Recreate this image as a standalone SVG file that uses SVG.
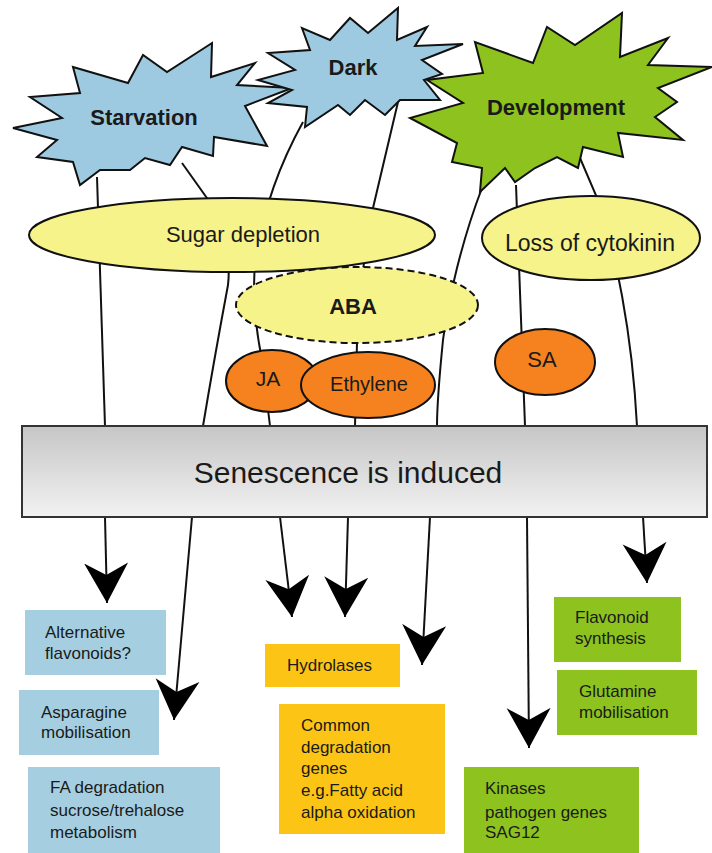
<svg xmlns="http://www.w3.org/2000/svg" width="712" height="853" viewBox="0 0 712 853">
<defs>
<style>
.star{stroke:#111;stroke-width:2;stroke-linejoin:miter}
.blue{fill:#9ecae1}
.green{fill:#8dc21f}
.ell{fill:#f7f38b;stroke:#111;stroke-width:2}
.dash{stroke-dasharray:7 4}
.org{fill:#f5821f;stroke:#111;stroke-width:2}
.conn{fill:none;stroke:#111;stroke-width:2}
.lbl{font-family:"Liberation Sans",Arial,Helvetica,sans-serif;fill:#1a1a1a}
.b{font-weight:bold;font-size:22px;text-anchor:middle}
.m{font-size:22px;text-anchor:middle}
.box{font-size:17px}
.bbox{fill:#a5cfe1}
.gbox{fill:#fcc516}
.kbox{fill:#8dc21f}
</style>
<linearGradient id="gray" x1="0" y1="0" x2="0" y2="1">
<stop offset="0" stop-color="#c6c6c6"/>
<stop offset="1" stop-color="#f2f2f2"/>
</linearGradient>
<marker id="ah" viewBox="-40 -24 42 48" refX="0" refY="0" markerWidth="42" markerHeight="48" orient="auto" markerUnits="userSpaceOnUse">
<path d="M0,0 L-40,-22 L-28,0 L-40,22 Z" fill="#000"/>
</marker>
</defs>
<rect width="712" height="853" fill="#fff"/>

<g id="connectors">
<path class="conn" d="M97,177 L105,426"/>
<path class="conn" d="M182,163 L214,208 Q232,250 228,285 Q214,360 203,426"/>
<path class="conn" d="M303,122 Q268,185 256,255 Q250,300 262,360 L270,426"/>
<path class="conn" d="M398,102 L373,208 L358,300 L355,426"/>
<path class="conn" d="M482,188 C462,240 448,300 443,340 C439,380 437,410 437,426"/>
<path class="conn" d="M516,185 L525,426"/>
<path class="conn" d="M580,158 L598,200 C615,250 632,330 637,426"/>
<path class="conn" d="M105,517 L107,603" marker-end="url(#ah)"/>
<path class="conn" d="M192,517 L174,720" marker-end="url(#ah)"/>
<path class="conn" d="M280,517 L292,617" marker-end="url(#ah)"/>
<path class="conn" d="M348,517 L345,617" marker-end="url(#ah)"/>
<path class="conn" d="M430,517 L422,665" marker-end="url(#ah)"/>
<path class="conn" d="M527,517 L529,748" marker-end="url(#ah)"/>
<path class="conn" d="M643,517 L647,583" marker-end="url(#ah)"/>
</g>

<g id="starvation">
<polygon class="star blue" points="13,128 62,118 30,97 80,93 73,67 128,83 143,55 167,72 212,43 211,77 255,63 237,85 292,88 245,106 267,146 214,137 213,156 182,147 170,165 145,158 130,170 100,170 80,185 73,162 37,157 57,140"/>
<text class="lbl b" x="144" y="125">Starvation</text>
</g>

<g id="dark">
<polygon class="star blue" points="398,8 397,40 427,27 415,46 463,44 422,60 442,74 424,80 440,100 400,100 385,115 365,100 350,115 338,105 305,127 307,107 268,103 292,90 258,80 295,70 268,53 310,50 302,28 330,40 350,18 368,33"/>
<text class="lbl b" x="353" y="75">Dark</text>
</g>

<g id="development">
<polygon class="star green" points="622,13 620,57 668,38 648,65 712,67 658,88 677,102 655,117 683,140 618,133 623,157 583,147 578,168 557,157 535,168 515,182 505,168 480,192 482,168 452,162 457,143 410,118 463,103 427,80 483,73 475,42 533,63 547,27 575,45"/>
<text class="lbl b" x="556" y="115">Development</text>
</g>

<g id="aba">
<ellipse class="ell dash" cx="357" cy="305" rx="121" ry="38"/>
<text class="lbl b" x="353" y="314">ABA</text>
</g>

<g id="sugar">
<ellipse class="ell" cx="232" cy="235" rx="203" ry="37"/>
<text class="lbl m" x="243" y="242">Sugar depletion</text>
</g>

<g id="cytokinin">
<ellipse class="ell" cx="591" cy="238" rx="109" ry="42"/>
<text class="lbl m" x="590" y="251" style="font-size:23px">Loss of cytokinin</text>
</g>

<g id="ja">
<ellipse class="org" cx="272" cy="381" rx="46" ry="31"/>
<text class="lbl m" x="268" y="386" style="font-size:21px">JA</text>
</g>

<g id="ethylene">
<ellipse class="org" cx="368" cy="385" rx="67" ry="33"/>
<text class="lbl m" x="369" y="391" style="font-size:20px">Ethylene</text>
</g>

<g id="sa">
<ellipse class="org" cx="545" cy="362" rx="50" ry="33"/>
<text class="lbl m" x="542" y="367">SA</text>
</g>

<g id="senescence">
<rect x="22" y="426" width="685" height="91" fill="url(#gray)" stroke="#333" stroke-width="2"/>
<text class="lbl" x="348" y="483" text-anchor="middle" style="font-size:30px">Senescence is induced</text>
</g>

<g id="alt-flavonoids">
<rect class="bbox" x="25" y="610" width="141" height="65"/>
<text class="lbl box" x="45" y="638">Alternative</text>
<text class="lbl box" x="45" y="659">flavonoids?</text>
</g>

<g id="asparagine">
<rect class="bbox" x="19" y="690" width="140" height="65"/>
<text class="lbl box" x="41" y="718">Asparagine</text>
<text class="lbl box" x="41" y="738">mobilisation</text>
</g>

<g id="fa-degradation">
<rect class="bbox" x="28" y="767" width="192" height="86"/>
<text class="lbl box" x="50" y="793">FA degradation</text>
<text class="lbl box" x="50" y="816">sucrose/trehalose</text>
<text class="lbl box" x="50" y="838">metabolism</text>
</g>

<g id="hydrolases">
<rect class="gbox" x="265" y="644" width="135" height="43"/>
<text class="lbl box" x="287" y="671">Hydrolases</text>
</g>

<g id="common">
<rect class="gbox" x="279" y="704" width="166" height="130"/>
<text class="lbl box" x="301" y="731">Common</text>
<text class="lbl box" x="301" y="753">degradation</text>
<text class="lbl box" x="301" y="774">genes</text>
<text class="lbl box" x="301" y="796">e.g.Fatty acid</text>
<text class="lbl box" x="301" y="818">alpha oxidation</text>
</g>

<g id="flavonoid-synthesis">
<rect class="kbox" x="554" y="597" width="127" height="65"/>
<text class="lbl box" x="575" y="623">Flavonoid</text>
<text class="lbl box" x="575" y="644">synthesis</text>
</g>

<g id="glutamine">
<rect class="kbox" x="557" y="670" width="140" height="65"/>
<text class="lbl box" x="579" y="697">Glutamine</text>
<text class="lbl box" x="579" y="718">mobilisation</text>
</g>

<g id="kinases">
<rect class="kbox" x="464" y="767" width="175" height="86"/>
<text class="lbl box" x="485" y="794">Kinases</text>
<text class="lbl box" x="485" y="818">pathogen genes</text>
<text class="lbl box" x="485" y="838">SAG12</text>
</g>
</svg>
